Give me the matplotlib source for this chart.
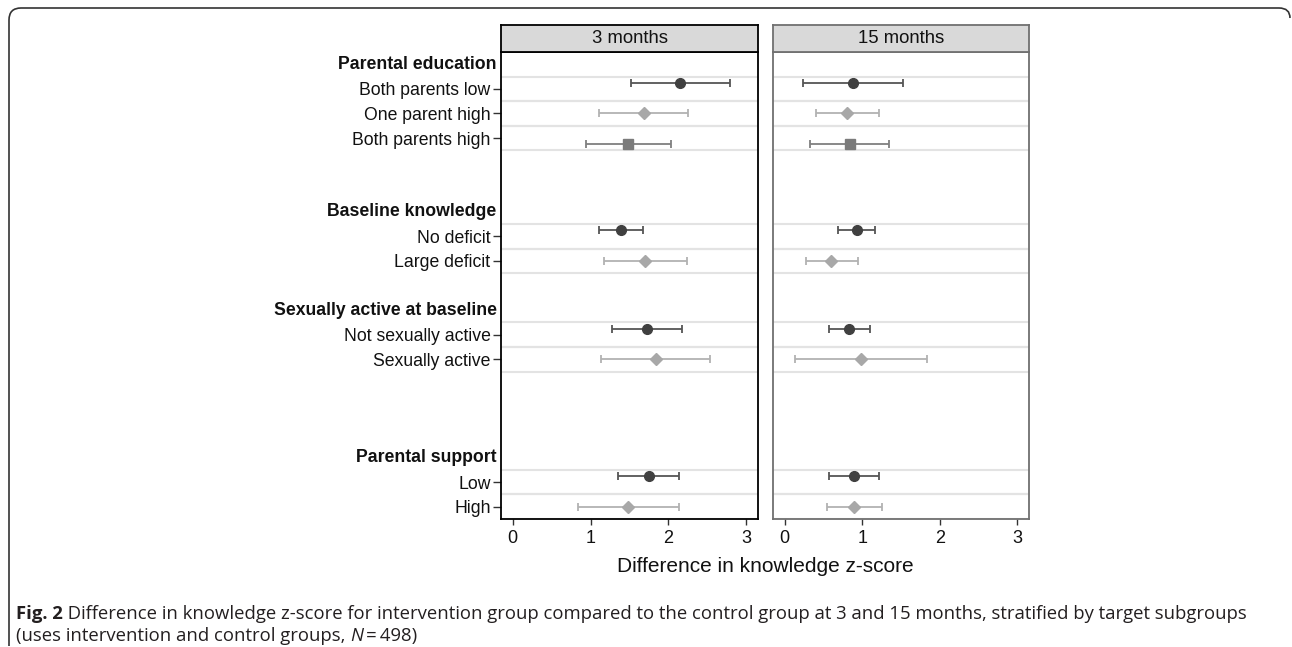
import matplotlib
matplotlib.use("Agg")
import matplotlib.pyplot as plt
from matplotlib.path import Path
from matplotlib.patches import PathPatch
import numpy as np

W, H, DPI = 1292, 647, 100

# ---------------- data ----------------
panels = ["3 months", "15 months"]
groups = ["Parental education", "Baseline knowledge",
          "Sexually active at baseline", "Parental support"]
levels = [["Both parents low", "One parent high", "Both parents high"],
          ["No deficit", "Large deficit"],
          ["Not sexually active", "Sexually active"],
          ["Low", "High"]]

est_3m = [2.15, 1.68, 1.48, 1.39, 1.70, 1.72, 1.84, 1.75, 1.48]
lo_3m = [1.52, 1.11, 0.94, 1.11, 1.17, 1.28, 1.14, 1.35, 0.84]
hi_3m = [2.79, 2.25, 2.03, 1.67, 2.24, 2.17, 2.54, 2.14, 2.13]

est_15m = [0.88, 0.81, 0.84, 0.93, 0.60, 0.83, 0.98, 0.89, 0.90]
lo_15m = [0.24, 0.41, 0.33, 0.69, 0.27, 0.57, 0.13, 0.57, 0.54]
hi_15m = [1.52, 1.21, 1.35, 1.17, 0.94, 1.10, 1.84, 1.21, 1.25]

xticks = [0, 1, 2, 3]
xlabel = "Difference in knowledge z-score"
caption_bold = "Fig. 2"
caption_1 = (" Difference in knowledge z-score for intervention group compared to the "
             "control group at 3 and 15 months, stratified by target subgroups")
caption_2a = "(uses intervention and control groups, "
caption_2b = "N"
caption_2c = "\u2009=\u2009498)"

panel_data = [(est_3m, lo_3m, hi_3m), (est_15m, lo_15m, hi_15m)]

# ---------------- styles ----------------
marker_styles = [
    dict(marker="o", ms=7.0, mc="#404040", ec="#555555", off=-0.25),
    dict(marker="D", ms=6.3, mc="#a8a8a8", ec="#b2b2b2", off=0.0),
    dict(marker="s", ms=7.0, mc="#7b7b7b", ec="#7f7f7f", off=0.25),
]
gaps_after = [2, 1, 3]  # blank rows after each group (layout)

# row layout
header_rows, level_rows, level_labels, level_idx = [], [], [], []
r = 0
for gi, (g, lv) in enumerate(zip(groups, levels)):
    header_rows.append(r)
    r += 1
    for i, name in enumerate(lv):
        level_rows.append(r)
        level_labels.append(name)
        level_idx.append(i)
        r += 1
    if gi < len(groups) - 1:
        r += gaps_after[gi]
n_rows = r

plt.rcParams["font.family"] = ["Liberation Sans", "DejaVu Sans"]
fig = plt.figure(figsize=(W / DPI, H / DPI), dpi=DPI)

def fx(px):
    return px / W

def fy(py):
    return 1 - py / H

top, bottom = 52, 519
strip_top = 25
panel_x = [(501, 758), (773, 1029)]
frame_colors = ["#000000", "#707070"]

axes = []
for p, ((x0, x1), name) in enumerate(zip(panel_x, panels)):
    ax = fig.add_axes([fx(x0), fy(bottom), fx(x1 - x0), (bottom - top) / H])
    axes.append(ax)
    ax.set_xlim(-0.15, 3.15)
    ax.set_ylim(n_rows - 0.5, -0.5)
    for lr in level_rows:
        for yy in (lr - 0.5, lr + 0.5):
            ax.axhline(yy, color="#e3e3e3", lw=1.5, zorder=1)
    est, lo, hi = panel_data[p]
    for k, (lr, li) in enumerate(zip(level_rows, level_idx)):
        st = marker_styles[li]
        yv = lr + st["off"]
        ax.errorbar([est[k]], [yv],
                    xerr=[[est[k] - lo[k]], [hi[k] - est[k]]],
                    fmt="none", ecolor=st["ec"], elinewidth=1.3,
                    capsize=2.9, capthick=1.3, zorder=2)
        ax.plot([est[k]], [yv], marker=st["marker"], ms=st["ms"],
                color=st["mc"], mec=st["mc"], ls="none", zorder=3)
    ax.set_xticks(xticks)
    ax.set_xticklabels([str(t) for t in xticks])
    ax.tick_params(axis="x", length=4.5, width=1, pad=3.5, labelsize=13,
                   color="#333333", labelcolor="#111111")
    for s in ax.spines.values():
        s.set_color(frame_colors[p])
        s.set_linewidth(1.3)
    if p == 0:
        ax.set_yticks(level_rows)
        ax.set_yticklabels(level_labels)
        ax.tick_params(axis="y", length=6, width=1, pad=1.5, labelsize=12.7,
                       color="#333333", labelcolor="#111111")
        for g, hr in zip(groups, header_rows):
            ax.text(-0.017, hr, g, transform=ax.get_yaxis_transform(),
                    ha="right", va="center", fontsize=12.7,
                    fontweight="bold", color="#111111")
    else:
        ax.set_yticks([])

    # strip
    sax = fig.add_axes([fx(x0), fy(top), fx(x1 - x0), (top - strip_top) / H])
    sax.set_facecolor("#d9d9d9")
    sax.set_xticks([])
    sax.set_yticks([])
    for s in sax.spines.values():
        s.set_color(frame_colors[p])
        s.set_linewidth(1.3)
    sax.text(0.5, 0.5, name, ha="center", va="center", fontsize=13.3,
             color="#111111", transform=sax.transAxes)

fig.text(fx((panel_x[0][0] + panel_x[1][1]) / 2), fy(567), xlabel,
         ha="center", va="center", fontsize=15, color="#111111")

# outer frame (rounded top corners, open at right/bottom)
verts = [(fx(9), fy(646)), (fx(9), fy(20)), (fx(9), fy(8)), (fx(21), fy(8)),
         (fx(1279), fy(8)), (fx(1290), fy(8)), (fx(1290), fy(18))]
codes = [Path.MOVETO, Path.LINETO, Path.CURVE3, Path.CURVE3,
         Path.LINETO, Path.CURVE3, Path.CURVE3]
fig.patches.append(PathPatch(Path(verts, codes), transform=fig.transFigure,
                             fill=False, ec="#333333", lw=1.2))

# caption
cap_font = ["Open Sans", "DejaVu Sans"]
cap_size = 13.3
cap_col = "#231f20"
renderer = fig.canvas.get_renderer()
y1, y2 = fy(614), fy(636)
t = fig.text(fx(16), y1, caption_bold, fontweight="bold", family=cap_font,
             fontsize=cap_size, color=cap_col, va="center")
bb = t.get_window_extent(renderer=renderer)
fig.text(bb.x1 / W, y1, caption_1, family=cap_font, fontsize=cap_size,
         color=cap_col, va="center")
x = fx(16)
for txt, style in ((caption_2a, "normal"), (caption_2b, "italic"),
                   (caption_2c, "normal")):
    tt = fig.text(x, y2, txt, family=cap_font, fontsize=cap_size,
                  color=cap_col, va="center", style=style)
    x = tt.get_window_extent(renderer=renderer).x1 / W

fig.savefig("out.png", dpi=DPI)
